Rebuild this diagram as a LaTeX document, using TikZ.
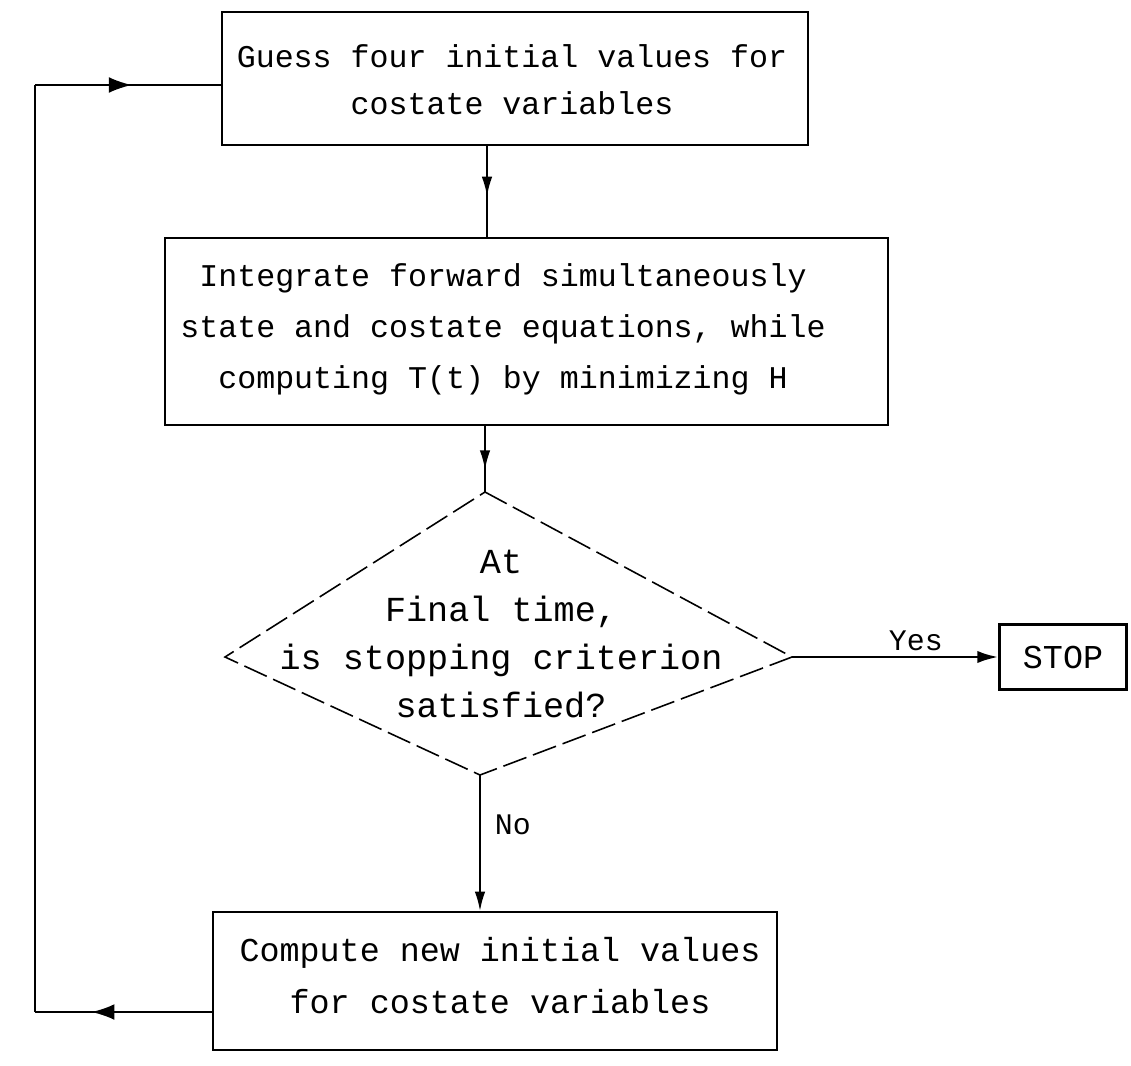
\documentclass[tikz,border=0pt]{standalone}
\usepackage{fontspec}
\newfontfamily\tw{Liberation Mono}
\usetikzlibrary{arrows.meta,decorations.markings}
\begin{document}
\begin{tikzpicture}[x=0.02cm,y=-0.02cm,
  box/.style={draw,line width=1.3pt,inner sep=0pt},
  txt/.style={align=center,inner sep=0pt},
  conn/.style={line width=1pt},
  tip/.style={-{Latex[length=11pt,width=6pt]}},
  midarr/.style={postaction={decorate},decoration={markings,
     mark=at position #1 with {\arrow{Latex[length=11pt,width=6pt]}}}},
  looparr/.style={postaction={decorate},decoration={markings,
     mark=at position #1 with {\arrow{Latex[length=13pt,width=9pt]}}}},
  diam/.style={line width=0.9pt,dash pattern=on 14pt off 4pt},
  lbl/.style={inner sep=0pt,font=\tw\fontsize{17}{20}\selectfont}]
\useasboundingbox (0,0) rectangle (1131,1065);

% boxes
\node[box,minimum width=11.72cm,minimum height=2.66cm] (b1) at (515,78.5) {};
\node[txt,font=\tw\fontsize{18}{26.7}\selectfont] (t1) at (512,80)
  {Guess four initial values for\\costate variables};

\node[box,minimum width=14.46cm,minimum height=3.74cm] (b2) at (526.5,331.5) {};
\node[txt,font=\tw\fontsize{18}{29}\selectfont] (t2) at (503,329)
  {Integrate forward simultaneously\\state and costate equations, while\\computing T(t) by minimizing H};

% decision diamond
\coordinate (dt) at (485,492);
\coordinate (dr) at (792,657);
\coordinate (db) at (480,775);
\coordinate (dl) at (225,657);
\draw[diam] (dt) -- (dr) -- (db) -- (dl) -- cycle;
\node[txt,font=\tw\fontsize{20}{27.4}\selectfont] (t3) at (501,634)
  {At\\Final time,\\is stopping criterion\\satisfied?};

\node[box,minimum width=2.54cm,minimum height=1.3cm,font=\tw\fontsize{19}{22}\selectfont] (stop) at (1063,657) {STOP};

\node[box,minimum width=11.28cm,minimum height=2.76cm] (b4) at (495,981) {};
\node[txt,font=\tw\fontsize{19}{29.6}\selectfont] (t4) at (500,976)
  {Compute new initial values\\for costate variables};

% connectors
\draw[conn,midarr=0.55] ([xshift=-0.56cm]b1.south) -- ([xshift=-0.79cm]b2.north);
\draw[conn,midarr=0.66] (b2.south -| dt) -- (dt);
\draw[line width=1.6pt,-{Latex[length=12pt,width=7pt]}] (dr) -- node[lbl,above=3pt,pos=0.6] (yes) {Yes} (stop.west);
\draw[conn,tip] (db) -- (db |- b4.north)
  node[lbl,pos=0.37,anchor=west,xshift=8pt] (no) {No};

% feedback loop
\coordinate (lb) at (35,1012);
\coordinate (lt) at (35,85);
\draw[conn,looparr=0.68] (lb -| b4.west) -- (lb);
\draw[conn] (lb) -- (lt);
\draw[conn,looparr=0.52] (lt) -- (lt -| b1.west);
\end{tikzpicture}
\end{document}
